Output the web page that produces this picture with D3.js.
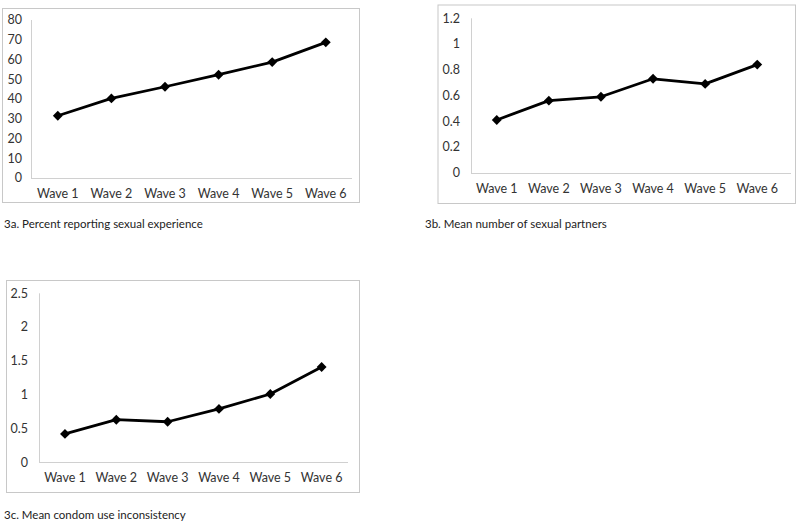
<!DOCTYPE html>
<html><head><meta charset="utf-8">
<script src="https://cdn.jsdelivr.net/npm/d3@7"></script>
<style>
html,body{margin:0;padding:0;background:#fff;}
svg{display:block;font-family:Lato,"Open Sans",sans-serif;}
</style></head>
<body><svg id="c" width="800" height="524"></svg>
<script>
const categories = ["Wave 1","Wave 2","Wave 3","Wave 4","Wave 5","Wave 6"];
const seriesA = [31.5, 40.3, 46.2, 52.3, 58.7, 68.7];
const seriesB = [0.41, 0.56, 0.59, 0.73, 0.69, 0.84];
const seriesC = [0.42, 0.63, 0.60, 0.79, 1.01, 1.41];
const ticksA = [0,10,20,30,40,50,60,70,80];
const ticksB = [0,0.2,0.4,0.6,0.8,1,1.2];
const ticksC = [0,0.5,1,1.5,2,2.5];
const captions = ["3a. Percent reporting sexual experience","3b. Mean number of sexual partners","3c. Mean condom use inconsistency"];

const svg = d3.select("#c");

const panels = [
  {values: seriesA, ticks: ticksA, caption: captions[0],
   box:[2,8,359,202], plot:{x0:31, x1:352.6, y0:178, y1:20}, axisEnd:352, labelX:22, capX:4, capY:228},
  {values: seriesB, ticks: ticksB, caption: captions[1],
   box:[437.5,4.5,795,203], plot:{x0:470.7, x1:783.3, y0:172.7, y1:18.3}, axisEnd:791, labelX:460, capX:425, capY:228},
  {values: seriesC, ticks: ticksC, caption: captions[2],
   box:[6,280,359,492], plot:{x0:39.3, x1:347.3, y0:462.3, y1:293.3}, axisEnd:348, labelX:28, capX:4, capY:519}
];

panels.forEach(p => {
  const g = svg.append("g");
  const [bx0,by0,bx1,by1] = p.box;
  g.append("rect").attr("x",bx0+0.5).attr("y",by0+0.5)
    .attr("width",bx1-bx0).attr("height",by1-by0)
    .attr("fill","#fff").attr("stroke","#c8c8c8").attr("stroke-width",1);

  const x = d3.scaleBand().domain(categories).range([p.plot.x0, p.plot.x1]);
  const y = d3.scaleLinear().domain([0, d3.max(p.ticks)]).range([p.plot.y0, p.plot.y1]);

  g.append("line").attr("x1",Math.round(p.plot.x0)+0.5).attr("x2",Math.round(p.plot.x0)+0.5)
    .attr("y1",y(d3.max(p.ticks))).attr("y2",Math.round(p.plot.y0)+0.5)
    .attr("stroke","#d0d0d0").attr("stroke-width",1);
  g.append("line").attr("x1",Math.round(p.plot.x0)).attr("x2",p.axisEnd)
    .attr("y1",Math.round(p.plot.y0)+0.5).attr("y2",Math.round(p.plot.y0)+0.5)
    .attr("stroke","#d0d0d0").attr("stroke-width",1);

  g.selectAll(".yt").data(p.ticks).join("text")
    .attr("x",p.labelX).attr("y",d=>y(d)).attr("dy","0.35em")
    .attr("text-anchor","end").attr("font-size",12.5).attr("fill","#333")
    .text(d=>d3.format("~g")(d));

  g.selectAll(".xt").data(categories).join("text")
    .attr("x",d=>x(d)+x.bandwidth()/2).attr("y",p.plot.y0+15.5).attr("dy","0.35em")
    .attr("text-anchor","middle").attr("font-size",12.5).attr("fill","#333")
    .text(d=>d);

  const line = d3.line().x((d,i)=>x(categories[i])+x.bandwidth()/2).y(d=>y(d));
  g.append("path").datum(p.values).attr("d",line)
    .attr("fill","none").attr("stroke","#000").attr("stroke-width",2.8)
    .attr("stroke-linejoin","round");

  const sym = d3.symbol().type(d3.symbolDiamond2).size(62);
  g.selectAll(".m").data(p.values).join("path")
    .attr("transform",(d,i)=>`translate(${x(categories[i])+x.bandwidth()/2},${y(d)})`)
    .attr("d",sym).attr("fill","#000");

  svg.append("text").attr("x",p.capX).attr("y",p.capY)
    .attr("font-size",11.5).attr("fill","#222").text(p.caption);
});
</script></body></html>
